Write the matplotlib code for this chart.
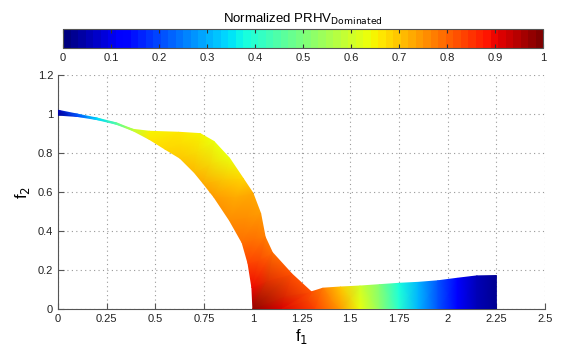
import numpy as np
import matplotlib.pyplot as plt

plt.rcParams['font.family'] = ['Liberation Sans', 'DejaVu Sans']

# band of the front: lower / upper boundary and PRHV value at each station
lower_x = [0.00, 0.10, 0.20, 0.30, 0.385, 0.47, 0.55, 0.626, 0.70, 0.745, 0.80, 0.88, 0.945, 0.975,
           0.995, 1.00, 1.15, 1.32, 1.45, 1.55, 1.65, 1.75, 1.85, 1.95, 2.05, 2.15, 2.25]
lower_y = [0.995, 0.988, 0.972, 0.948, 0.915, 0.87, 0.82, 0.774, 0.70, 0.645, 0.575, 0.455, 0.34, 0.235,
           0.11, 0.0, 0.0, 0.0, 0.0, 0.0, 0.0, 0.0, 0.0, 0.0, 0.0, 0.0, 0.0]
upper_x = [0.00, 0.10, 0.20, 0.30, 0.385, 0.47, 0.62, 0.73, 0.80, 0.88, 0.95, 1.00, 1.04, 1.063,
           1.10, 1.20, 1.30, 1.36, 1.45, 1.55, 1.65, 1.75, 1.85, 1.95, 2.05, 2.15, 2.25]
upper_y = [1.020, 1.000, 0.980, 0.955, 0.922, 0.912, 0.907, 0.90, 0.86, 0.774, 0.67, 0.595, 0.49, 0.37,
           0.29, 0.18, 0.088, 0.107, 0.113, 0.118, 0.125, 0.132, 0.137, 0.145, 0.158, 0.170, 0.172]
lower_c = [0.02, 0.20, 0.33, 0.45, 0.58, 0.66, 0.68, 0.70, 0.71, 0.72, 0.74, 0.76, 0.79, 0.84,
           0.90, 0.97, 0.92, 0.84, 0.74, 0.64, 0.52, 0.40, 0.31, 0.21, 0.12, 0.05, 0.02]
upper_c = [0.05, 0.22, 0.35, 0.47, 0.58, 0.65, 0.66, 0.65, 0.63, 0.64, 0.68, 0.72, 0.74, 0.77,
           0.79, 0.82, 0.82, 0.78, 0.70, 0.60, 0.50, 0.38, 0.30, 0.21, 0.12, 0.05, 0.03]

xticks = [0, 0.25, 0.5, 0.75, 1, 1.25, 1.5, 1.75, 2, 2.25, 2.5]
xlabels = ['0', '0.25', '0.5', '0.75', '1', '1.25', '1.5', '1.75', '2', '2.25', '2.5']
yticks = [0, 0.2, 0.4, 0.6, 0.8, 1, 1.2]
ylabels = ['0', '0.2', '0.4', '0.6', '0.8', '1', '1.2']
cticks = [0, 0.1, 0.2, 0.3, 0.4, 0.5, 0.6, 0.7, 0.8, 0.9, 1]
clabels = ['0', '0.1', '0.2', '0.3', '0.4', '0.5', '0.6', '0.7', '0.8', '0.9', '1']

cmap = plt.get_cmap('jet', 64)
gray = '#555555'

fig = plt.figure(figsize=(5.69, 3.48), dpi=100)
ax = fig.add_axes([0.102, 0.112, 0.856, 0.672])

X = np.array([lower_x, upper_x])
Y = np.array([lower_y, upper_y])
C = np.array([lower_c, upper_c])
pm = ax.pcolormesh(X, Y, C, shading='gouraud', cmap=cmap, vmin=0, vmax=1, zorder=3)

ax.set_xlim(0, 2.5); ax.set_ylim(0, 1.2)
ax.set_xticks(xticks); ax.set_xticklabels(xlabels)
ax.set_yticks(yticks); ax.set_yticklabels(ylabels)
ax.grid(True, linestyle=(0, (1, 3)), color='#999999', linewidth=0.8, zorder=0)
for s in ('top', 'right'):
    ax.spines[s].set_visible(False)
for s in ('left', 'bottom'):
    ax.spines[s].set_color(gray)
ax.tick_params(direction='in', length=4, colors=gray, labelcolor='#222222', labelsize=8)
ax.set_xlabel('f$_1$', fontsize=12, labelpad=2)
ax.set_ylabel('f$_2$', fontsize=12, labelpad=4)

cax = fig.add_axes([0.111, 0.862, 0.844, 0.055])
cb = fig.colorbar(pm, cax=cax, orientation='horizontal')
cb.set_ticks(cticks); cb.set_ticklabels(clabels)
cax.xaxis.set_ticks_position('both')
cax.tick_params(direction='in', length=3, colors='#333333', labelcolor='#222222', labelsize=8,
                labeltop=False, labelbottom=True)
cb.outline.set_edgecolor(gray)
cax.set_title('Normalized PRHV$_{\\mathrm{Dominated}}$', fontsize=9.5, pad=4)

fig.savefig('out.png', dpi=100)
